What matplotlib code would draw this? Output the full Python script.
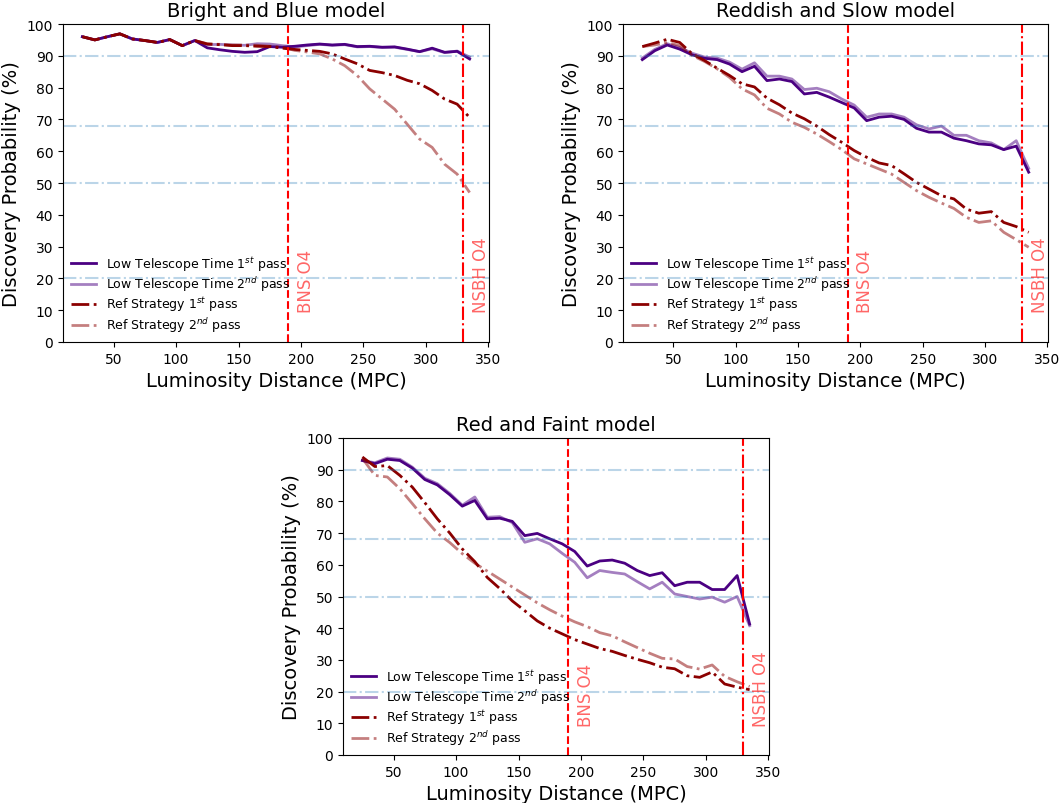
import matplotlib
matplotlib.use("Agg")
import matplotlib.pyplot as plt

distance = [25, 35, 45, 55, 65, 75, 85, 95, 105, 115, 125, 135, 145, 155, 165, 175,
            185, 195, 205, 215, 225, 235, 245, 255, 265, 275, 285, 295, 305, 315, 325, 335]

# Bright and Blue model
bb_ltt1 = [96.0, 95.0, 96.0, 96.9, 95.3, 94.8, 94.2, 95.1, 93.2, 94.8, 92.5, 91.9, 91.4, 91.1, 91.3, 92.9,
           92.7, 93.0, 93.4, 93.7, 93.4, 93.6, 92.9, 93.0, 92.7, 92.8, 92.1, 91.3, 92.4, 91.1, 91.4, 89.0]
bb_ltt2 = [96.0, 95.0, 96.0, 96.9, 95.3, 94.8, 94.2, 95.1, 93.2, 94.8, 93.5, 93.6, 93.4, 93.3, 93.8, 93.7,
           93.2, 92.8, 93.2, 93.6, 93.3, 93.5, 92.8, 92.9, 92.6, 92.7, 92.0, 91.3, 92.2, 91.0, 91.5, 89.6]
bb_ref1 = [96.0, 95.0, 96.0, 96.9, 95.3, 94.8, 94.2, 95.1, 93.2, 94.8, 93.7, 93.5, 93.2, 93.2, 93.0, 92.9,
           92.4, 92.0, 91.7, 91.4, 90.6, 89.0, 87.5, 85.4, 84.7, 83.8, 82.3, 81.2, 79.1, 76.4, 74.8, 70.6]
bb_ref2 = [96.0, 95.0, 96.0, 96.9, 95.3, 94.8, 94.2, 95.1, 93.2, 94.8, 93.8, 93.6, 93.4, 93.4, 93.3, 93.0,
           92.7, 91.7, 91.2, 90.6, 89.0, 86.9, 83.8, 79.6, 76.4, 73.2, 68.5, 63.8, 61.2, 55.9, 52.8, 47.0]

# Reddish and Slow model
rs_ltt1 = [88.8, 91.6, 93.4, 92.1, 90.3, 89.2, 88.8, 87.4, 85.0, 86.7, 82.2, 82.7, 81.9, 78.0, 78.5, 77.0,
           75.3, 73.6, 69.6, 70.7, 71.0, 70.0, 67.2, 66.0, 66.0, 64.1, 63.3, 62.3, 62.0, 60.5, 61.6, 53.4]
rs_ltt2 = [89.3, 92.0, 93.8, 92.6, 90.8, 89.6, 89.3, 88.0, 85.8, 87.8, 83.6, 83.6, 82.7, 79.4, 79.8, 78.7,
           76.4, 74.5, 70.7, 71.7, 71.7, 70.7, 68.3, 67.0, 67.9, 65.0, 65.0, 63.3, 62.6, 60.5, 63.3, 54.6]
rs_ref1 = [92.9, 94.0, 95.2, 94.2, 90.6, 88.5, 86.1, 83.8, 81.2, 80.2, 76.7, 74.6, 72.0, 70.2, 67.9, 65.2,
           62.8, 60.2, 58.1, 56.3, 55.5, 52.9, 50.2, 48.1, 46.0, 45.0, 41.8, 40.5, 41.0, 37.6, 36.3, 34.5]
rs_ref2 = [92.9, 93.4, 94.2, 93.2, 90.1, 88.2, 85.9, 83.2, 79.6, 77.7, 73.5, 71.7, 69.1, 67.5, 65.4, 63.0,
           60.5, 57.6, 56.0, 54.4, 52.8, 50.2, 47.6, 45.5, 43.7, 42.0, 39.2, 37.6, 38.1, 34.5, 32.2, 29.8]

# Red and Faint model
rf_ltt1 = [92.9, 91.9, 93.3, 92.9, 90.5, 86.9, 85.2, 82.1, 78.5, 80.3, 74.5, 74.7, 73.7, 69.2, 69.9, 68.2,
           66.6, 64.2, 59.6, 61.2, 61.5, 60.5, 58.2, 56.6, 57.5, 53.4, 54.5, 54.5, 52.2, 52.2, 56.6, 41.3]
rf_ltt2 = [92.9, 92.2, 93.7, 93.3, 90.8, 87.3, 85.6, 82.5, 78.8, 81.4, 75.0, 75.2, 73.3, 67.1, 68.2, 66.6,
           63.6, 60.8, 55.9, 58.2, 57.6, 57.1, 54.7, 52.4, 54.5, 50.8, 50.0, 49.2, 49.8, 48.2, 50.0, 40.8]
rf_ref1 = [94.0, 91.0, 91.3, 88.2, 84.5, 79.6, 74.5, 70.0, 65.0, 61.0, 56.0, 52.5, 48.6, 45.5, 42.3, 40.0,
           38.2, 36.4, 35.0, 33.6, 32.7, 31.4, 30.2, 29.1, 27.7, 27.2, 25.0, 24.5, 26.2, 22.4, 21.4, 20.6]
rf_ref2 = [93.6, 88.2, 87.7, 84.0, 79.3, 74.5, 70.0, 67.0, 63.5, 60.5, 58.0, 55.5, 53.0, 50.5, 48.0, 45.8,
           43.8, 42.0, 40.5, 38.6, 37.6, 35.7, 33.9, 32.1, 30.5, 30.3, 27.9, 27.1, 28.4, 24.8, 23.1, 21.6]

titles = ["Bright and Blue model", "Reddish and Slow model", "Red and Faint model"]
series = [(bb_ltt1, bb_ltt2, bb_ref1, bb_ref2),
          (rs_ltt1, rs_ltt2, rs_ref1, rs_ref2),
          (rf_ltt1, rf_ltt2, rf_ref1, rf_ref2)]
labels = ["Low Telescope Time 1$^{st}$ pass", "Low Telescope Time 2$^{nd}$ pass",
          "Ref Strategy 1$^{st}$ pass", "Ref Strategy 2$^{nd}$ pass"]
hlines = [90, 68, 50, 20]
bns_o4 = 190
nsbh_o4 = 330

W, H = 1061, 804
fig = plt.figure(figsize=(W / 100, H / 100), dpi=100)

def rect(left, top, right, bottom):
    return [left / W, 1 - bottom / H, (right - left) / W, (bottom - top) / H]

positions = [rect(63, 25, 489, 343), rect(623, 25, 1048, 343), rect(343, 439, 769, 756)]

for pos, title, (l1, l2, r1, r2) in zip(positions, titles, series):
    ax = fig.add_axes(pos)
    ax.plot(distance, l1, color="indigo", lw=2, ls="-", label=labels[0])
    ax.plot(distance, l2, color="indigo", alpha=0.5, lw=2, ls="-", label=labels[1])
    ax.plot(distance, r1, color="darkred", lw=2, ls="-.", label=labels[2])
    ax.plot(distance, r2, color="darkred", alpha=0.5, lw=2, ls="-.", label=labels[3])
    for h in hlines:
        ax.axhline(h, color="tab:blue", alpha=0.3, ls="-.", lw=1.5)
    ax.axvline(bns_o4, color="red", ls="--", lw=1.5)
    ax.axvline(nsbh_o4, color="red", ls="-.", lw=1.5)
    ax.text(bns_o4 + 6.5, 9.3, "BNS O4", rotation=90, color="red", alpha=0.6,
            fontsize=12, ha="left", va="bottom")
    ax.text(nsbh_o4 + 6.5, 9.3, "NSBH O4", rotation=90, color="red", alpha=0.6,
            fontsize=12, ha="left", va="bottom")
    ax.set_xlim(9.5, 350.5)
    ax.set_ylim(0, 100)
    ax.set_yticks(range(0, 101, 10))
    ax.set_xticks(range(50, 351, 50))
    ax.tick_params(labelsize=10)
    ax.set_title(title, fontsize=14)
    ax.set_xlabel("Luminosity Distance (MPC)", fontsize=14)
    ax.set_ylabel("Discovery Probability (%)", fontsize=14)
    ax.legend(loc="lower left", frameon=False, fontsize=9, labelspacing=0.12,
              handletextpad=0.8, borderaxespad=0.25)

fig.savefig("out.png", dpi=100)
